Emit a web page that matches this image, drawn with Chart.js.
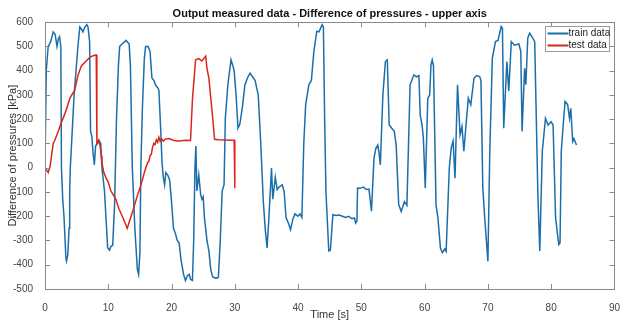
<!DOCTYPE html>
<html>
<head>
<meta charset="utf-8">
<script src="https://cdn.jsdelivr.net/npm/chart.js@4/dist/chart.umd.min.js"></script>
<style>
  html, body { margin: 0; padding: 0; background: #fff; }
  #wrap { width: 625px; height: 322px; }
</style>
</head>
<body>
<div id="wrap"><canvas id="chart"></canvas></div>
<script>
"use strict";

const trainTime = [0, 0.2, 0.5, 0.9, 1.3, 1.6, 1.9, 2.1, 2.3, 2.5, 2.6, 2.8, 3.0, 3.3, 3.4, 3.6, 3.8, 3.9, 4.0, 4.3,
    4.6, 4.9, 5.2, 5.5, 5.8, 6.0, 6.3, 6.6, 6.8, 7.05, 7.2, 7.4, 7.6, 7.8, 8.0, 8.3, 8.6, 8.8, 9.0, 9.4,
    9.7, 9.9, 10.2, 10.4, 10.7, 11.0, 11.3, 11.6, 11.8, 12.2, 12.8, 13.3, 13.5, 13.8, 14.2, 14.6, 14.8, 15.0, 15.15, 15.4,
    15.7, 15.9, 16.3, 16.6, 16.9, 17.2, 17.5, 17.8, 18.0, 18.3, 18.5, 18.7, 18.9, 19.1, 19.4, 19.7, 20.0, 20.3, 20.6, 20.9,
    21.2, 21.5, 21.9, 22.2, 22.5, 22.8, 23.0, 23.3, 23.5, 23.7, 23.85, 24.0, 24.3, 24.6, 24.8, 25.0, 25.2, 25.6, 25.9, 26.2,
    26.5, 27.0, 27.4, 27.7, 28.0, 28.3, 28.5, 28.9, 29.4, 29.7, 29.9, 30.2, 30.5, 30.8, 31.2, 31.6, 32.0, 32.4, 32.8, 33.2,
    33.7, 34.1, 34.5, 34.8, 35.1, 35.4, 35.8, 36.0, 36.4, 36.7, 37.0, 37.5, 37.8, 38.1, 38.5, 38.8, 39.2, 39.5, 40.0, 40.3,
    40.6, 40.9, 41.2, 41.7, 42.1, 42.5, 42.96, 43.3, 43.8, 44.0, 44.2, 44.4, 44.85, 45.1, 45.5, 46.0, 46.5, 47.0, 47.5, 48.0,
    48.5, 48.9, 49.1, 49.3, 49.4, 49.8, 50.3, 50.8, 51.2, 51.6, 52.0, 52.3, 52.6, 52.8, 53.0, 53.4, 53.8, 54.1, 54.4, 54.8,
    55.2, 55.5, 55.9, 56.3, 56.8, 57.2, 57.7, 58.3, 58.7, 59.1, 59.3, 59.6, 59.8, 60.1, 60.5, 60.8, 61.0, 61.2, 61.4, 61.8,
    62.1, 62.5, 62.8, 63.2, 63.4, 63.9, 64.2, 64.5, 64.8, 65.2, 65.6, 65.9, 66.2, 66.9, 67.3, 67.8, 68.2, 68.7, 68.9, 69.2,
    69.5, 70.0, 70.3, 70.7, 71.2, 71.6, 72.1, 72.3, 72.5, 73.0, 73.3, 73.7, 74.2, 74.9, 75.2, 75.4, 75.8, 76.0, 76.3, 76.6,
    77.1, 77.4, 77.9, 78.2, 78.6, 79.1, 79.5, 80.0, 80.3, 80.7, 81.2, 81.4, 81.6, 81.9, 82.2, 82.6, 82.9, 83.1, 83.4, 83.6,
    84.0];
const trainValue = [0, 400, 500, 520, 560, 550, 500, 530, 540, 500, 0, -130, -200, -370, -385, -360, -250, -100, 0, 150,
    300, 400, 500, 580, 570, 560, 580, 590, 580, 520, 150, 130, 60, 12, 90, 100, 110, 100, 0, -96,
    -235, -330, -340, -325, -320, -150, 200, 420, 500, 510, 525, 510, 420, 0, -250, -420, -440, -350, 0, 250,
    450, 500, 500, 480, 370, 360, 340, 330, 320, 150, 20, -40, -70, -20, -30, -50, -140, -250, -270, -300,
    -310, -380, -440, -465, -445, -440, -460, -465, -300, 0, 89, -96, -30, -110, -130, -120, -207, -300, -343, -420,
    -450, -455, -452, -300, -96, -70, 204, 342, 445, 420, 398, 300, 163, 180, 250, 342, 370, 390, 375, 360,
    300, 100, -137, -250, -331, -200, -1, -130, -40, -90, -80, -70, -100, -207, -230, -255, -210, -190, -200, -190,
    -205, 100, 260, 342, 360, 480, 563, 560, 590, 580, 200, -96, -343, -340, -194, -197, -195, -200, -205, -200,
    -210, -207, -228, -220, -84, -85, -80, -90, -88, -179, 40, 80, 94, 60, 12, 300, 438, 445, 177, 163,
    150, 94, -152, -180, -140, -155, 342, 383, 375, 380, 218, 176, 122, -84, 287, 300, 424, 445, 420, -153,
    -207, -331, -350, -335, -345, -1, 81, 110, -43, 342, 136, 170, 68, 287, 260, 369, 380, 376, 360, -84,
    -207, -386, 68, 452, 520, 525, 582, 575, 163, 438, 316, 520, 505, 510, 479, 150, 410, 342, 534, 555,
    534, 520, -111, -343, 68, 204, 176, 190, 176, -207, -317, -310, 68, 176, 273, 260, 204, 245, 108, 120,
    94];

const testTime = [0, 0.5, 0.8, 1.3, 1.5, 2.1, 2.5, 3.1, 3.5, 4.0, 4.7, 5.2, 5.75, 6.5, 7.1, 7.6, 8.1, 8.2, 8.5, 8.7,
    8.9, 9.0, 9.3, 9.7, 10.0, 10.4, 11.2, 11.7, 12.3, 13.0, 13.3, 13.8, 14.2, 14.6, 15.0, 15.4, 15.7, 16.0, 16.2, 16.4,
    16.6, 16.8, 17.0, 17.2, 17.4, 17.6, 17.8, 18.0, 18.2, 18.4, 18.7, 19.0, 19.6, 20.4, 21.2, 22.2, 23.0, 23.3, 23.8, 24.3,
    24.8, 25.4, 25.6, 25.9, 26.4, 26.8, 27.4, 28.5, 29.5, 29.9, 30.0];
const testValue = [0, -20, 5, 100, 110, 150, 180, 220, 250, 290, 320, 380, 420, 440, 455, 462, 465, 100, 115, 90,
    50, 20, -20, -45, -60, -95, -130, -170, -205, -250, -225, -185, -150, -115, -85, -50, -20, 5, 20, 25,
    50, 55, 85, 100, 95, 115, 105, 125, 110, 120, 110, 118, 120, 112, 110, 113, 112, 280, 445, 450,
    440, 460, 410, 370, 235, 117, 115, 114, 113, 113, -85];

const xTicks = [0, 10, 20, 30, 40, 50, 60, 70, 80, 90];
const yTicks = [-500, -400, -300, -200, -100, 0, 100, 200, 300, 400, 500, 600];

const blue = "#1a6fab";
const red = "#d9261c";
const axisGray = "#8a8a8a";

// box, inner tick marks and legend, drawn like matlab does
const matlabAxes = {
    id: "matlabAxes",
    afterDatasetsDraw(chart) {
        const ctx = chart.ctx;
        const a = chart.chartArea;
        const xs = chart.scales.x;
        const ys = chart.scales.y;
        ctx.save();
        ctx.strokeStyle = axisGray;
        ctx.lineWidth = 1;
        ctx.beginPath();
        for (let v of xTicks) {
            let px = Math.round(xs.getPixelForValue(v)) + 0.5;
            ctx.moveTo(px, a.bottom); ctx.lineTo(px, a.bottom - 5);
            ctx.moveTo(px, a.top); ctx.lineTo(px, a.top + 5);
        }
        for (let v of yTicks) {
            let py = Math.round(ys.getPixelForValue(v)) + 0.5;
            ctx.moveTo(a.left, py); ctx.lineTo(a.left + 5, py);
            ctx.moveTo(a.right, py); ctx.lineTo(a.right - 5, py);
        }
        ctx.stroke();
        ctx.strokeRect(Math.round(a.left) + 0.5, Math.round(a.top) + 0.5,
            Math.round(a.right - a.left), Math.round(a.bottom - a.top));

        // legend box
        const bx = Math.round(a.right) - 68.5, by = Math.round(a.top) + 4.5, bw = 64, bh = 25;
        ctx.fillStyle = "#fff";
        ctx.fillRect(bx, by, bw, bh);
        ctx.strokeStyle = "#9a9a9a";
        ctx.strokeRect(bx, by, bw, bh);
        ctx.font = "10px 'Liberation Sans', Arial, sans-serif";
        ctx.textBaseline = "middle";
        chart.data.datasets.forEach(function (ds, i) {
            let ly = by + 7 + i * 12;
            ctx.strokeStyle = ds.borderColor;
            ctx.lineWidth = 2;
            ctx.beginPath();
            ctx.moveTo(bx + 2, ly); ctx.lineTo(bx + 23, ly);
            ctx.stroke();
            ctx.fillStyle = "#222";
            ctx.fillText(ds.label, bx + 23, ly);
        });
        ctx.restore();
    }
};

const ctx = document.getElementById("chart").getContext("2d");
const chart = new Chart(ctx, {
    type: "line",
    data: {
        datasets: [{
            label: "train data",
            data: trainTime.map((t, i) => ({ x: t, y: trainValue[i] })),
            borderColor: blue,
            borderWidth: 1.5,
            pointRadius: 0,
            tension: 0,
            order: 1
        }, {
            label: "test data",
            data: testTime.map((t, i) => ({ x: t, y: testValue[i] })),
            borderColor: red,
            borderWidth: 1.5,
            pointRadius: 0,
            tension: 0,
            order: 0
        }]
    },
    options: {
        responsive: true,
        maintainAspectRatio: false,
        animation: false,
        events: [],
        layout: { padding: { left: 0, right: 6, top: 0, bottom: 0 } },
        plugins: {
            legend: { display: false },
            tooltip: { enabled: false },
            title: {
                display: true,
                text: "Output measured data - Difference of pressures - upper axis",
                fullSize: false,
                color: "#111",
                font: { family: "'Liberation Sans', Arial, sans-serif", size: 11, weight: "bold" },
                padding: { top: 7, bottom: 2 }
            }
        },
        scales: {
            x: {
                type: "linear",
                min: 0,
                max: 90,
                grid: { display: false },
                border: { display: false },
                afterBuildTicks: function (s) { s.ticks = xTicks.map(v => ({ value: v })); },
                afterFit: function (s) { s.height = 33; },
                ticks: {
                    color: "#444",
                    padding: 5,
                    maxRotation: 0,
                    font: { family: "'Liberation Sans', Arial, sans-serif", size: 10 }
                },
                title: {
                    display: true,
                    text: "Time [s]",
                    color: "#333",
                    padding: { top: 0, bottom: 0 },
                    font: { family: "'Liberation Sans', Arial, sans-serif", size: 11 }
                }
            },
            y: {
                min: -500,
                max: 600,
                grid: { display: false },
                border: { display: false },
                afterBuildTicks: function (s) { s.ticks = yTicks.map(v => ({ value: v })); },
                afterFit: function (s) { s.width = 45; },
                ticks: {
                    color: "#444",
                    padding: 4,
                    font: { family: "'Liberation Sans', Arial, sans-serif", size: 10 }
                },
                title: {
                    display: true,
                    text: "Difference of pressures [kPa]",
                    color: "#333",
                    padding: { top: 6, bottom: 0 },
                    font: { family: "'Liberation Sans', Arial, sans-serif", size: 11 }
                }
            }
        }
    },
    plugins: [matlabAxes]
});
</script>
</body>
</html>
